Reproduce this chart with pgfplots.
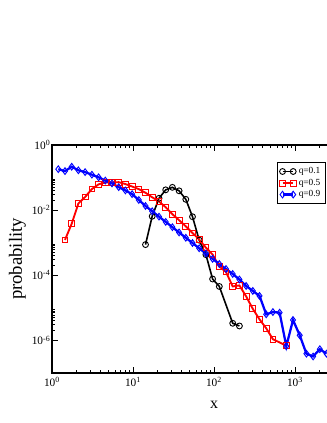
\documentclass[border=0pt]{standalone}
\usepackage{fontspec}
\setmainfont{Liberation Serif}
\usepackage{pgfplots}
\pgfplotsset{compat=1.18}
\begin{document}
\begin{tikzpicture}
% page is 327x423 px at 0.75pt/px; the axis runs on to 10^4, past the right edge
\path[use as bounding box] (0pt,0pt) rectangle (245.25pt,317.25pt);
\begin{axis}[
    at={(39pt,37.5pt)}, anchor=south west,
    scale only axis, width=243pt, height=171pt,
    xmode=log, ymode=log,
    xmin=1, xmax=10000, ymin=1e-7, ymax=1,
    xtick={1,10,100,1000,10000},
    xticklabels={10\textsuperscript{0},10\textsuperscript{1},10\textsuperscript{2},10\textsuperscript{3},{}},
    ytick={1e-6,1e-4,1e-2,1},
    yticklabels={10\textsuperscript{-6},10\textsuperscript{-4},10\textsuperscript{-2},10\textsuperscript{0}},
    minor ytick={2e-6,3e-6,4e-6,5e-6,6e-6,7e-6,8e-6,9e-6,
                 2e-4,3e-4,4e-4,5e-4,6e-4,7e-4,8e-4,9e-4,
                 2e-2,3e-2,4e-2,5e-2,6e-2,7e-2,8e-2,9e-2},
    tick align=inside,
    major tick length=4.5pt, minor tick length=2pt,
    axis line style={line width=0.9pt},
    every tick/.style={line width=0.7pt, black},
    tick label style={font=\fontsize{8.5}{10}\selectfont},
    yticklabel style={inner sep=1pt},
    xlabel={x}, ylabel={probability},
    xlabel style={font=\fontsize{12}{12}\selectfont, at={(axis description cs:0.5,-0.14)}, anchor=center},
    ylabel style={font=\fontsize{14}{14}\selectfont, at={(axis description cs:-0.107,0.5)}, anchor=center},
    legend style={at={(axis description cs:0.695,0.924)}, anchor=north west,
        font=\fontsize{7}{7}\selectfont, draw=black, line width=0.6pt,
        inner sep=1.5pt, row sep=-1.5pt, cells={anchor=west}},
    legend image code/.code={\draw[mark repeat=1,mark phase=1,#1] plot coordinates {(0pt,0pt) (8pt,0pt)};},
]
\addplot[black, line width=1.2pt, mark=o, mark size=2.2pt, mark options={line width=0.7pt}] coordinates {
 (14.27,0.000875) (17.26,0.0065) (20.94,0.0231) (25.33,0.042) (30.65,0.0501)
 (37.08,0.0392) (44.86,0.0215) (54.27,0.00628) (65.66,0.0012) (79.43,0.00043)
 (96.09,7.7e-5) (116.3,4.54e-5) (170.2,3.36e-6) (205.9,2.78e-6)
};
\addplot[red, line width=1.4pt, mark=square, mark size=2.2pt, mark options={line width=0.7pt}] coordinates {
 (1.447,0.00122) (1.751,0.00384) (2.118,0.01603) (2.563,0.02535) (3.109,0.0445)
 (3.761,0.0619) (4.550,0.0713) (5.505,0.0713) (6.661,0.0723) (8.058,0.0633)
 (9.748,0.0531) (11.79,0.0442) (14.27,0.0341) (17.26,0.0248) (20.94,0.01845)
 (25.33,0.01227) (30.65,0.0075) (37.08,0.00491) (44.86,0.00318) (54.27,0.001995)
 (65.66,0.001245) (79.43,0.000708) (96.09,0.000433) (116.3,0.000186) (140.7,0.000126)
 (170.2,4.54e-5) (205.9,4.88e-5) (249.2,2.25e-5) (301.3,9.31e-6) (364.6,4.45e-6)
 (441.0,2.36e-6) (533.6,1.09e-6) (781.1,6.89e-7)
};
\addplot[blue, line width=1.7pt, mark=diamond, mark size=2.5pt, mark options={line width=0.7pt}] coordinates {
 (1.196,0.181) (1.447,0.158) (1.751,0.2156) (2.118,0.167) (2.563,0.147)
 (3.109,0.1227) (3.761,0.102) (4.550,0.0809) (5.505,0.066) (6.661,0.0508)
 (8.058,0.0403) (9.748,0.031) (11.79,0.0205) (14.27,0.01343) (17.26,0.00925)
 (20.94,0.00632) (25.33,0.00436) (30.65,0.0030) (37.08,0.002065) (44.86,0.001422)
 (54.27,0.00098) (65.66,0.000675) (79.43,0.000465) (96.09,0.00032) (116.3,0.000222)
 (140.7,0.000156) (170.2,0.0001096) (205.9,7.44e-5) (249.2,4.71e-5) (301.3,3.31e-5)
 (364.6,2.33e-5) (441.0,6.33e-6) (533.6,7.44e-6) (645.6,7.13e-6) (781.1,6.65e-7)
 (944.8,4.24e-6) (1143,1.44e-6) (1383,3.92e-7) (1673,3.22e-7) (2024,5.38e-7)
 (2448,3.92e-7)
};
\legend{q=0.1, q=0.5, q=0.9}
\end{axis}
\end{tikzpicture}
\end{document}
